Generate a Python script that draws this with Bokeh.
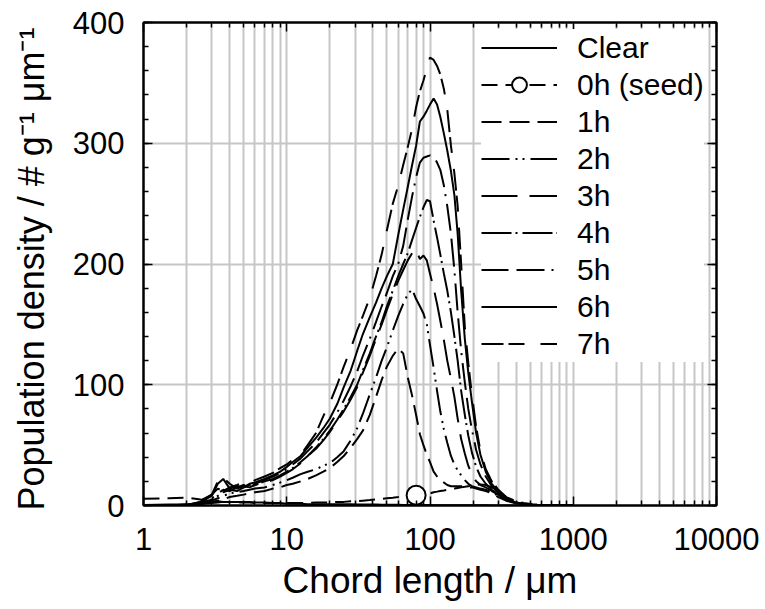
from bokeh.plotting import figure
from bokeh.models import (FixedTicker, NumeralTickFormatter, LogAxis, LinearAxis,
                          Legend, LegendItem, Range1d)
from bokeh.embed import file_html
from bokeh.resources import INLINE

FONT = "Liberation Sans"

# ---------------- data ----------------
X = [1, 1.5, 2, 2.5, 3,
     3.3, 3.6, 4, 4.5, 5,
     5.5, 6, 7, 8, 9,
     10, 11, 12.5, 14, 16,
     18, 20, 22.5, 25, 28,
     31, 34, 38, 42, 46,
     50, 55, 60, 65, 70,
     75, 80, 85, 90, 95,
     100, 106, 112, 118, 125,
     132, 140, 148, 156, 165,
     175, 185, 196, 210, 225,
     245, 270, 300, 340, 390,
     450, 520, 600, 700, 850,
     1000]

CLEAR = [0.5, 0.8, 1, 1.5, 2,
         2.5, 3, 3, 3, 3,
         3, 2.5, 2.5, 2, 2,
         1.5, 1.5, 1.5, 1, 1,
         1, 1, 1, 1, 1,
         0.8, 0.8, 0.8, 0.8, 0.7,
         0.7, 0.6, 0.6, 0.5, 0.5,
         0.5, 0.5, 0.4, 0.4, 0.4,
         0.4, 0.3, 0.3, 0.3, 0.3,
         0.3, 0.3, 0.3, 0.2, 0.2,
         0.2, 0.2, 0.2, 0.2, 0.2,
         0.2, 0.1, 0.1, 0.1, 0.1,
         0.1, 0.1, 0.1, 0.1, 0.1,
         0.1]

SEED = [5.5, 6, 6.5, 5, 4,
        3.5, 3, 3, 2.5, 2.5,
        2.5, 2, 2, 2, 2,
        2, 2, 2, 2, 2.5,
        2.5, 2.5, 3, 3, 3.5,
        3.5, 4, 4.5, 5, 5.5,
        6, 6.5, 7, 7.5, 8,
        8, 8.5, 9, 9.5, 10,
        10, 11, 11.5, 12, 12.5,
        13, 13.5, 14, 14.5, 15,
        15.5, 16, 16.5, 17, 17.5,
        17, 15, 12, 7, 4,
        2, 1, 0.5, 0.2, 0.1,
        0]

H1 = [0, 0, 0.2, 1, 3,
      4, 5, 7, 8, 9,
      10, 11, 12, 14, 15,
      17, 18, 20, 22, 25,
      28, 31, 36, 41, 48,
      55, 62, 75, 90, 104,
      115, 124, 130, 126, 106,
      91, 75, 59, 50, 42,
      36, 28, 24, 21, 19,
      17, 16, 16, 16, 16,
      16, 15, 15, 14, 13,
      12, 10, 7, 4, 2,
      0.8, 0.3, 0.1, 0, 0,
      0]

H2 = [0, 0, 0.2, 1.5, 4,
      6, 8, 10, 11, 12,
      13, 14, 15, 17, 19,
      21, 23, 26, 28, 30,
      33, 35, 40, 45, 54,
      64, 76, 92, 106, 120,
      131, 145, 157, 167, 175,
      179, 171, 165, 159, 150,
      133, 114, 95, 78, 63,
      52, 41, 34, 29, 25,
      21, 18, 16, 15, 14,
      13, 11, 8, 5, 2.5,
      1, 0.4, 0.2, 0.1, 0,
      0]

H3 = [0, 0, 0.5, 3, 9,
      20, 23, 18, 14, 16,
      15, 17, 19, 21, 24,
      27, 30, 35, 41, 47,
      54, 61, 70, 78, 88,
      98, 110, 124, 138, 150,
      162, 175, 186, 195, 203,
      209, 212, 204, 207, 203,
      192, 180, 167, 153, 137,
      120, 105, 90, 72, 55,
      43, 33, 26, 20, 17,
      15, 12, 9, 5, 2.5,
      1, 0.5, 0.2, 0.1, 0,
      0]

H4 = [0, 0, 0.3, 2, 5,
      8, 11, 13, 12, 15,
      17, 17, 20, 22, 25,
      28, 31, 36, 41, 48,
      55, 62, 71, 80, 90,
      100, 112, 126, 140, 152,
      165, 178, 190, 200, 209,
      220, 230, 239, 247, 253,
      252, 236, 222, 208, 192,
      178, 160, 140, 120, 95,
      75, 58, 44, 32, 24,
      18, 13, 9, 5, 2.5,
      1, 0.5, 0.2, 0.1, 0,
      0]

H5 = [0, 0, 0.3, 2, 6,
      10, 13, 12, 15, 17,
      16, 18, 21, 24, 27,
      30, 34, 39, 45, 52,
      60, 67, 77, 87, 99,
      111, 124, 138, 152, 165,
      176, 190, 200, 215, 237,
      256, 272, 284, 288, 289,
      290, 289, 284, 278, 265,
      248, 225, 195, 160, 128,
      102, 80, 63, 46, 34,
      24, 16, 10, 6, 3,
      1.2, 0.5, 0.2, 0.1, 0,
      0]

H6 = [0, 0, 0.5, 3, 8,
      18, 22, 14, 16, 15,
      18, 19, 22, 25, 28,
      32, 36, 41, 48, 56,
      64, 72, 84, 98, 112,
      128, 142, 156, 168, 180,
      190, 200, 224, 245, 264,
      282, 298, 318, 322, 327,
      332, 337, 332, 322, 308,
      294, 277, 257, 225, 178,
      138, 110, 86, 60, 42,
      28, 18, 11, 6, 3,
      1.2, 0.5, 0.2, 0.1, 0,
      0]

H7 = [0, 0, 1, 4, 9,
      14, 12, 15, 17, 19,
      18, 21, 24, 27, 31,
      34, 38, 42, 50, 60,
      74, 85, 100, 115, 130,
      145, 157, 172, 190, 208,
      228, 250, 265, 282, 297,
      312, 330, 343, 352, 362,
      371, 369, 364, 357, 345,
      328, 298, 275, 248, 200,
      148, 118, 92, 65, 45,
      30, 20, 13, 7, 3,
      1.5, 0.7, 0.3, 0.1, 0,
      0]

SEED_MARK_X = [80]

LABELS = ["Clear", "0h (seed)", "1h", "2h", "3h", "4h", "5h", "6h", "7h"]
X_TICKS = [1, 10, 100, 1000, 10000]
X_MINOR = [m * d for d in (1, 10, 100, 1000) for m in range(2, 10)]
Y_TICKS = [0, 100, 200, 300, 400]
Y_MINOR = list(range(0, 401, 20))

# ---------------- styles ----------------
SERIES = [CLEAR, SEED, H1, H2, H3, H4, H5, H6, H7]
DASHES = ["solid", "16 8", "20 8", "28 6 2 5 2 6", "36 12",
          "30 4 2 5", "27 8 28 7 2 8", "solid", "22 5 16 16"]

p = figure(width=765, height=609, x_axis_type="log",
           x_range=Range1d(1, 10000), y_range=Range1d(0, 400),
           output_backend="svg", toolbar_location=None)
p.min_border_left = 143
p.min_border_right = 49
p.min_border_top = 22
p.min_border_bottom = 104
p.outline_line_color = "black"
p.outline_line_width = 2
p.background_fill_color = "white"
p.border_fill_color = "white"

xt = FixedTicker(ticks=X_TICKS, minor_ticks=X_MINOR)
yt = FixedTicker(ticks=Y_TICKS, minor_ticks=Y_MINOR)

GRID = "#c6c6c6"
p.xgrid.ticker = xt
p.ygrid.ticker = yt
p.xgrid.grid_line_color = GRID
p.xgrid.grid_line_width = 2
p.xgrid.minor_grid_line_color = GRID
p.xgrid.minor_grid_line_width = 2
p.ygrid.grid_line_color = GRID
p.ygrid.grid_line_width = 2


def style_axis(ax, show_labels):
    ax.axis_line_color = "black"
    ax.axis_line_width = 2
    ax.major_tick_line_color = "black"
    ax.minor_tick_line_color = "black"
    ax.major_tick_line_width = 1.5
    ax.minor_tick_line_width = 1.5
    ax.major_tick_in = 9
    ax.major_tick_out = 0
    ax.minor_tick_in = 5
    ax.minor_tick_out = 0
    if show_labels:
        ax.major_label_text_font = FONT
        ax.major_label_text_font_size = "31px"
        ax.major_label_text_color = "black"
        ax.axis_label_text_font = FONT
        ax.axis_label_text_font_size = "36px"
        ax.axis_label_text_font_style = "normal"
        ax.axis_label_text_color = "black"
    else:
        ax.major_label_text_font_size = "1px"
        ax.major_label_text_color = None
        ax.major_label_standoff = 0


xa = p.xaxis[0]
xa.ticker = xt
xa.formatter = NumeralTickFormatter(format="0")
xa.axis_label = "Chord length / μm"
style_axis(xa, True)
xa.axis_label_text_font_size = "37px"
xa.major_label_standoff = 22
xa.axis_label_standoff = 7

ya = p.yaxis[0]
ya.ticker = yt
ya.axis_label = "Population density / # g⁻¹  μm⁻¹"
style_axis(ya, True)
ya.major_label_standoff = 19
ya.axis_label_standoff = 18

top = LogAxis(ticker=xt)
style_axis(top, False)
p.add_layout(top, "above")
right = LinearAxis(ticker=yt)
style_axis(right, False)
p.add_layout(right, "right")

renderers = []
for vals, dash in zip(SERIES, DASHES):
    r = p.line(X, vals, line_color="black", line_width=2, line_dash=dash)
    renderers.append([r])

seed_mark_y = [SEED[X.index(v)] for v in SEED_MARK_X]
m = p.scatter(SEED_MARK_X, seed_mark_y, marker="circle", size=19,
              fill_color="white", line_color="black", line_width=2)
renderers[1].append(m)

items = [LegendItem(label=lab, renderers=rs) for lab, rs in zip(LABELS, renderers)]
legend = Legend(items=items, location=(338, 143))
legend.label_text_font = FONT
legend.label_text_font_size = "30px"
legend.label_text_color = "black"
legend.glyph_width = 76
legend.glyph_height = 37
legend.label_height = 37
legend.label_standoff = 20
legend.spacing = 0
legend.padding = 8
legend.margin = 0
legend.border_line_color = None
legend.background_fill_color = "white"
legend.background_fill_alpha = 1.0
p.add_layout(legend)

open("out.html", "w").write(file_html(p, INLINE))
